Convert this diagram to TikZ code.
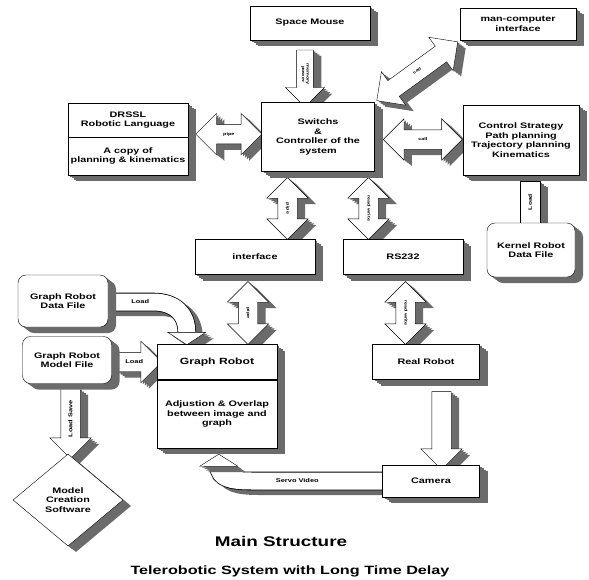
\documentclass[tikz,border=0pt]{standalone}
\usepackage{fontspec}
\setmainfont[FakeStretch=1.35]{Liberation Sans}
\usetikzlibrary{calc,shapes.arrows,shapes.geometric,backgrounds}
\definecolor{shd}{gray}{0.42}
\tikzset{
	ext/.style={
		preaction={draw=none, fill=shd, transform canvas={xshift=2pt, yshift=-1.5pt}},
		preaction={draw=none, fill=shd, transform canvas={xshift=4pt, yshift=-3pt}},
		preaction={draw=none, fill=shd, transform canvas={xshift=6pt, yshift=-4.5pt}},
		preaction={draw=none, fill=shd, transform canvas={xshift=8pt, yshift=-6pt}}},
	blk/.style={draw, fill=white, ext, inner sep=1pt, align=center, font=\fontsize{8}{9.5}\selectfont\bfseries},
	rblk/.style={blk, rounded corners=8pt},
	dar/.style={double arrow, draw, fill=white, ext, double arrow head extend=11pt, double arrow head indent=0pt,
		inner xsep=1pt, inner ysep=7.5pt, text height=3pt, text depth=1pt, align=center, font=\fontsize{4}{4.5}\selectfont\bfseries},
	sar/.style={single arrow, draw, fill=white, ext, single arrow head extend=11pt, single arrow head indent=0pt,
		inner xsep=1pt, inner ysep=7.5pt, text height=3pt, text depth=1pt, align=center, font=\fontsize{4}{4.5}\selectfont\bfseries},
	shaft/.style={draw, fill=white, ext, inner sep=0pt, font=\fontsize{5}{6}\selectfont\bfseries},
	tube/.style={line width=0.8pt, double=white, double distance=17pt},
	tubesh/.style={line width=18pt, shd, transform canvas={xshift=7pt, yshift=-5pt}},
	tiphead/.style={draw, fill=white, ext, line join=miter},
	lbl/.style={inner sep=0pt, font=\fontsize{5.5}{6}\selectfont\bfseries},
}

\begin{document}
\begin{tikzpicture}[x=1pt, y=-1pt]
	\useasboundingbox (0,0) rectangle (589,579);
	%\draw[help lines, step=50] (0,0) grid (589,579);

	\node[blk, minimum width=120, minimum height=34] (mouse) at (310,23) {Space Mouse};
	\node[blk, minimum width=116, minimum height=32] (mci) at (518,24) {man-computer\\interface};
	\node[blk, minimum width=120, minimum height=34] (drssl) at (128,120) {DRSSL\\Robotic Language};
	\node[blk, minimum width=120, minimum height=38] (copy) at (128,156) {A copy of\\planning \& kinematics};
	\node[blk, minimum width=113, minimum height=69] (sw) at (318,137) {Switchs\\\&\\Controller of the\\system};
	\node[blk, minimum width=116, minimum height=70] (ctrl) at (521,140) {Control Strategy\\Path planning\\Trajectory planning\\Kinematics};
	\node[rblk, minimum width=88, minimum height=54] (kern) at (531,250) {Kernel Robot\\Data File};
	\node[blk, minimum width=120, minimum height=35] (iface) at (255,257) {interface};
	\node[blk, minimum width=120, minimum height=35] (rs) at (403,257) {RS232};
	\node[rblk, minimum width=90, minimum height=52] (gdata) at (63,301) {Graph Robot\\Data File};
	\node[rblk, minimum width=89, minimum height=47] (gmodel) at (67,360) {Graph Robot\\Model File};
	\node[blk, minimum width=120, minimum height=35, font=\fontsize{9}{10}\selectfont\bfseries] (grobt) at (217,362) {Graph Robot};
	\node[blk, minimum width=120, minimum height=68] (grobb) at (217,414) {Adjustion \& Overlap\\between image and\\graph};
	\node[blk, minimum width=107, minimum height=35] (real) at (426,362) {Real Robot};
	\node[blk, minimum width=97, minimum height=32] (cam) at (431,481) {Camera};
	\node[blk, diamond, aspect=1.2, minimum width=110, minimum height=92] (mcs) at (68,500) {Model\\Creation\\Software};

	\begin{scope}[on background layer]
		\node[sar, rotate=-90, minimum height=57, inner ysep=4.5pt, text height={}, text depth={}] (a1) at ($(mouse.south)!.5!(sw.north)+(-9,3)$) {memory\\power};
		\node[dar, minimum height=66] (a2) at ($(drssl.south east)!.5!(sw.west)+(4,-3)$) {pipe};
		\node[dar, minimum height=79] (a3) at ($(sw.east)!.5!(ctrl.west)+(4,1)$) {call};
		\node[dar, rotate=36, minimum height=100] (a4) at ($(sw.north east)!.5!(mci.south west)$) {call};
		\node[dar, rotate=-90, minimum height=62] (a5) at ($(sw.south)!.5!(iface.north)+(1,3)$) {pipe};
		\node[dar, rotate=-90, minimum height=62] (a6) at ($(sw.south)!.5!(rs.north)+(8,3)$) {read write};
		\node[dar, rotate=-90, minimum height=63] (a7) at ($(iface.south)!.5!(grobt.north)+(12,3.5)$) {pipe};
		\node[dar, rotate=-90, minimum height=63] (a8) at ($(rs.south)!.5!(real.north)+(-9,3.5)$) {read write};
		\node[sar, rotate=-90, minimum height=78] (a9) at ($(real.south)!.5!(cam.north)+(13,3.5)$) {};
		\node[shaft, rotate=90, minimum width=42, minimum height=20] (a10) at ($(ctrl.south)!.5!(kern.north)+(4,3)$) {Load};
		\node[sar, minimum height=45, font=\fontsize{5.5}{6}\selectfont\bfseries] (a11) at ($(gmodel.east)!.5!(grobt.west)+(0,1)$) {Load};
		\node[sar, rotate=-90, minimum height=70] (a12) at ($(gmodel.south)!.5!(mcs.north)+(3,0)$) {};

		%curved load arrow
		\coordinate (l1) at ($(gdata.east)+(0,1)$);
		\coordinate (l2) at ($(grobt.north west)+(30,-12)$);
		\draw[tubesh] (l1) -- ++(45,0) .. controls ($(l1)+(67,0)$) and ($(l2)+(0,-18)$) .. (l2);
		\draw[tube] (l1) -- ++(45,0) .. controls ($(l1)+(67,0)$) and ($(l2)+(0,-18)$) .. (l2);
		\draw[tiphead] ($(l2)+(-19,0)$) -- ($(l2)+(19,0)$) -- ($(l2)+(0,12.5)$) -- cycle;

		%servo video
		\coordinate (s1) at (cam.west);
		\coordinate (s2) at ($(grobb.south west)+(62,18)$);
		\draw[tubesh] (s1) -- ++(-130,0) .. controls ($(s1)+(-152,0)$) and ($(s2)+(0,12)$) .. (s2);
		\draw[tube] (s1) -- ++(-130,0) .. controls ($(s1)+(-152,0)$) and ($(s2)+(0,12)$) .. (s2);
		\draw[tiphead] ($(s2)+(-19,0)$) -- ($(s2)+(19,0)$) -- ($(s2)+(0,-12)$) -- cycle;
	\end{scope}

	\node[lbl] (t1) at ($(l1)+(32,0)$) {Load};
	\node[lbl] (t2) at ($(s1)+(-85,0)$) {Servo Video};
	\node[lbl, rotate=90] (t3) at (a12) {Load Save};

	\node[font=\fontsize{14}{16}\selectfont\bfseries] (title) at (281,541) {Main Structure};
	\node[font=\fontsize{12}{14}\selectfont\bfseries] (sub) at (290,571) {Telerobotic System with Long Time Delay};
\end{tikzpicture}
\end{document}
